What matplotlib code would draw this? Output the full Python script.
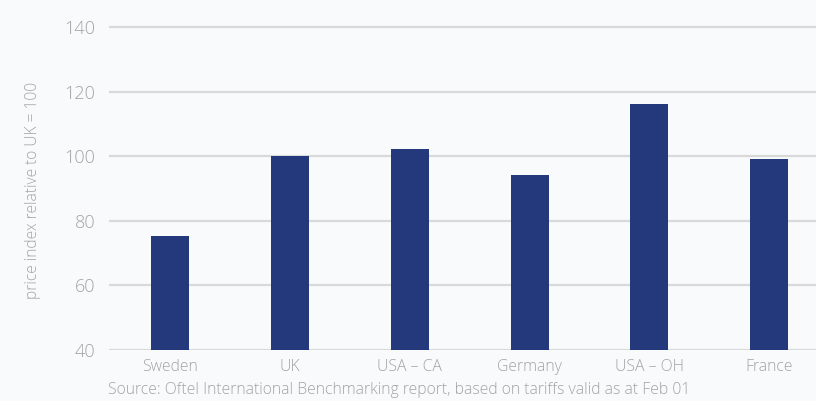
import matplotlib
matplotlib.use("Agg")
import matplotlib.pyplot as plt

# data
countries = ["Sweden", "UK", "USA \u2013 CA", "Germany", "USA \u2013 OH", "France"]
price_index = [75.3, 100, 102.2, 94.2, 116.2, 99.2]
y_ticks = [40, 60, 80, 100, 120, 140]

bg = "#f9fafc"
bar_color = "#24397b"
grid_color = "#d9d9d9"
text_color = "#a3a3a3"

plt.rcParams["font.family"] = ["Open Sans", "DejaVu Sans"]

fig = plt.figure(figsize=(8.16, 4.01), dpi=100, facecolor=bg)
ax = fig.add_axes([109 / 816, 1 - 350 / 401, 1 - 109 / 816, (350 - 23.8) / 401])
ax.set_facecolor(bg)

x = range(len(countries))
ax.bar(x, price_index, width=0.317, color=bar_color, zorder=3, bottom=0)

ax.set_ylim(40, 141)
ax.set_xlim(-0.51, 5.39)
ax.set_yticks(y_ticks)
ax.set_yticklabels([str(t) for t in y_ticks])
ax.set_xticks(list(x))
ax.set_xticklabels(countries)

ax.grid(axis="y", color=grid_color, linewidth=1.6, zorder=1)
ax.set_axisbelow(True)
for s in ax.spines.values():
    s.set_visible(False)

ax.tick_params(axis="y", length=0, pad=10, labelsize=13, labelcolor=text_color)
ax.tick_params(axis="x", length=0, pad=6.5, labelsize=11.3, labelcolor=text_color)
for lbl in ax.get_yticklabels() + ax.get_xticklabels():
    lbl.set_fontweight("light")

fig.text(33 / 816, 1 - 190 / 401, "price index relative to UK = 100", rotation=90,
         ha="center", va="center", fontsize=11.2, color=text_color, fontweight="light")
fig.text(108 / 816, 1 - 390 / 401,
         "Source: Oftel International Benchmarking report, based on tariffs valid as at Feb 01",
         ha="left", va="center", fontsize=11.3, color=text_color, fontweight="light")

fig.savefig("out.png", dpi=100, facecolor=bg)
